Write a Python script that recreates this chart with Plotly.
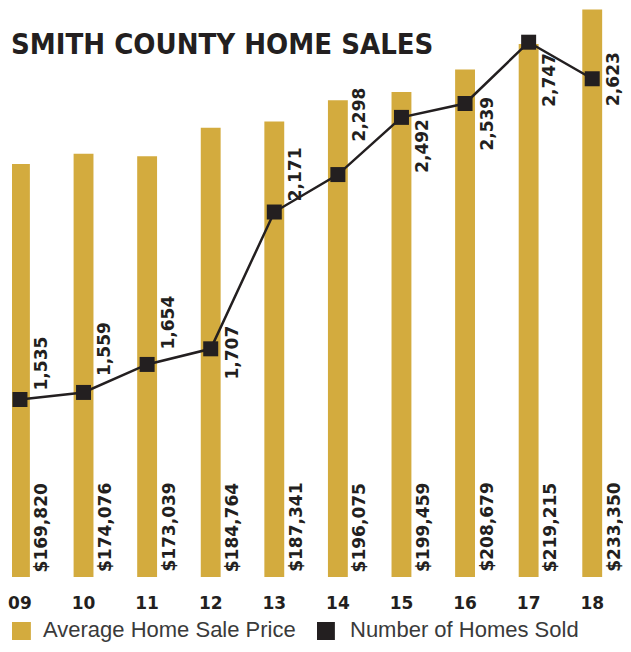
import plotly.graph_objects as go

# ---- data ----
years = ["09", "10", "11", "12", "13", "14", "15", "16", "17", "18"]
avg_price = [169820, 174076, 173039, 184764, 187341, 196075, 199459, 208679, 219215, 233350]
homes_sold = [1535, 1559, 1654, 1707, 2171, 2298, 2492, 2539, 2747, 2623]
title_text = "SMITH COUNTY HOME SALES"
legend_labels = ["Average Home Sale Price", "Number of Homes Sold"]

# ---- style ----
GOLD = "#D3AB3E"
DARK = "#231F20"
OFF = 8                           # default body margin of the html page
W, H = 631 - 2 * OFF, 652 - 2 * OFF  # figure size so the page fits the window
PLOT_BOTTOM = 577 - OFF           # figure pixel row of the bar baseline
count_label_dy = [36, 43, 42, -4, 38, 60, -28, -20, -38, 0]  # label centre offset from marker (px, up)

def px_x(p):
    """window pixel column -> paper x"""
    return (p - OFF) / W

def px_y(p):
    """window pixel row -> paper y"""
    return (PLOT_BOTTOM - (p - OFF)) / PLOT_BOTTOM

fig = go.Figure()
fig.add_trace(go.Bar(
    x=years, y=avg_price, name=legend_labels[0],
    marker=dict(color=GOLD, line=dict(width=0)), width=0.3125,
    showlegend=False, hoverinfo="x+y",
))
fig.add_trace(go.Scatter(
    x=years, y=homes_sold, name=legend_labels[1], yaxis="y2",
    mode="lines+markers",
    line=dict(color=DARK, width=2.5),
    marker=dict(symbol="square", size=15, color=DARK),
    showlegend=False,
))

bold = dict(family="DejaVu Sans, Arial, sans-serif", size=17, color=DARK, weight="bold")
annotations = []
for i, p in enumerate(avg_price):
    annotations.append(dict(
        x=i, y=0, xref="x", yref="y", text=f"${p:,}", textangle=-90,
        showarrow=False, xanchor="center", yanchor="bottom",
        xshift=21, yshift=3, font=bold,
    ))
for i, (n, dy) in enumerate(zip(homes_sold, count_label_dy)):
    annotations.append(dict(
        x=i, y=n, xref="x", yref="y2", text=f"{n:,}", textangle=-90,
        showarrow=False, xanchor="center", yanchor="middle",
        xshift=21, yshift=dy, font=bold,
    ))

# title
annotations.append(dict(
    x=0, y=px_y(44), xref="paper", yref="paper", text=title_text,
    showarrow=False, xanchor="left", yanchor="middle", xshift=-3,
    font=dict(family="DejaVu Sans Condensed, Liberation Sans Narrow, Arial Narrow, sans-serif",
              size=29, color=DARK, weight="bold"),
))

# custom legend
legend_font = dict(family="Liberation Sans, Arial, sans-serif", size=22, color="#3a3a3a")
shapes = [
    dict(type="rect", xref="paper", yref="paper", x0=px_x(8), x1=px_x(27),
         y0=px_y(640), y1=px_y(622), fillcolor=GOLD, line=dict(width=0)),
    dict(type="rect", xref="paper", yref="paper", x0=px_x(315), x1=px_x(333),
         y0=px_y(640), y1=px_y(622), fillcolor=DARK, line=dict(width=0)),
]
annotations.append(dict(x=px_x(37), y=px_y(630), xref="paper", yref="paper",
                        text=legend_labels[0], showarrow=False, xanchor="left",
                        yanchor="middle", font=legend_font))
annotations.append(dict(x=px_x(346), y=px_y(630), xref="paper", yref="paper",
                        text=legend_labels[1], showarrow=False, xanchor="left",
                        yanchor="middle", font=legend_font))

fig.update_layout(
    width=W, height=H,
    margin=dict(l=0, r=0, t=0, b=H - PLOT_BOTTOM),
    paper_bgcolor="white", plot_bgcolor="white",
    showlegend=False,
    xaxis=dict(type="category", range=[-0.125, 9.484], showgrid=False, zeroline=False,
               showline=False, ticks="", tickfont=bold, ticklabelstandoff=14,
               fixedrange=True),
    yaxis=dict(range=[0, 234000], visible=False, showgrid=False, fixedrange=True),
    yaxis2=dict(range=[933, 2863], overlaying="y", visible=False, showgrid=False,
                fixedrange=True),
    annotations=annotations,
    shapes=shapes,
)

fig.write_html("out.html")
